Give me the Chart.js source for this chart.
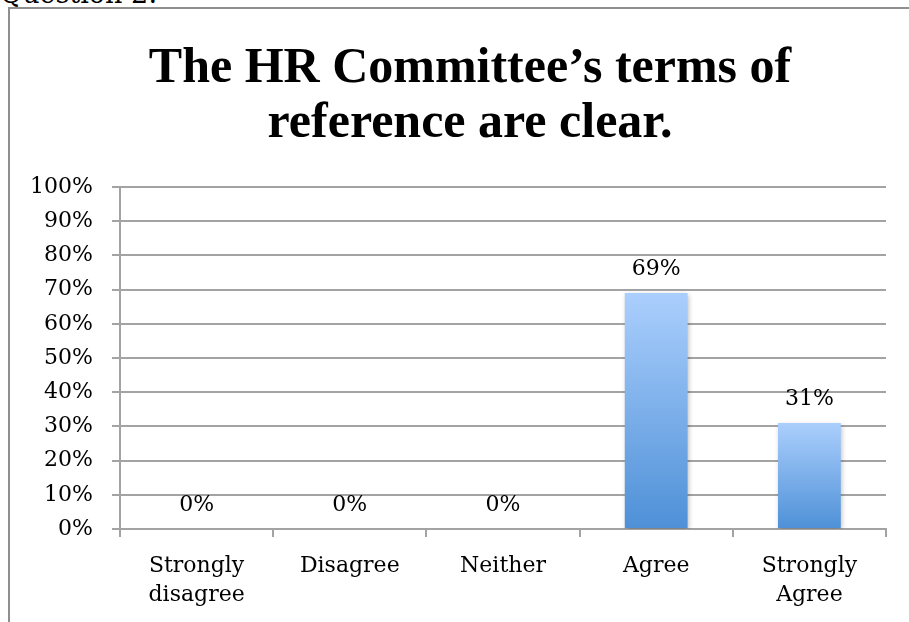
<!DOCTYPE html>
<html>
<head>
<meta charset="utf-8">
<script src="https://cdn.jsdelivr.net/npm/chart.js@4/dist/chart.umd.min.js"></script>
<style>
  html, body { margin: 0; padding: 0; background: #fff; }
  body { width: 909px; height: 622px; position: relative; overflow: hidden; }
  #heading { position: absolute; left: 0; top: -22px; font: 27px "DejaVu Serif", serif; line-height: 31px; color: #000; white-space: nowrap; }
  #frame { position: absolute; left: 8px; top: 7px; width: 960px; height: 640px;
           border-top: 2px solid #8f8f8f; border-left: 2px solid #8f8f8f; }
  #wrap { position: absolute; left: 0; top: 0; width: 909px; height: 622px; }
  #title { position: absolute; left: 20px; top: 38px; width: 900px; text-align: center;
           font: bold 50px "Liberation Serif", serif; line-height: 55px; color: #000; }
</style>
</head>
<body>
<div id="heading">Question 2:</div>
<div id="frame"></div>
<div id="wrap"><canvas id="chart" width="909" height="622"></canvas></div>
<div id="title"></div>
<script>
// Survey responses for question 2
const categories = [["Strongly", "disagree"], "Disagree", "Neither", "Agree", ["Strongly", "Agree"]];
const shares = [0, 0, 0, 69, 31];           // percent of respondents
const yTicks = [0, 10, 20, 30, 40, 50, 60, 70, 80, 90, 100];
const titleLines = ["The HR Committee\u2019s terms of", "reference are clear."];

document.getElementById('title').innerHTML = titleLines.join('<br>');

const labelFont = { family: "'DejaVu Serif', serif", size: 22 };

function barGradient(ctx) {
  const chart = ctx.chart;
  const area = chart.chartArea;
  if (!area || ctx.type !== 'data') return '#7fb0ea';
  const y = chart.scales.y;
  const top = y.getPixelForValue(ctx.raw);
  const bottom = y.getPixelForValue(0);
  if (bottom - top < 1) return '#7fb0ea';
  const g = chart.ctx.createLinearGradient(0, top, 0, bottom);
  g.addColorStop(0, '#abcffd');
  g.addColorStop(1, '#4e90d7');
  return g;
}

// soft drop shadow under the bars
const barShadow = {
  id: 'barShadow',
  beforeDatasetsDraw(chart) {
    const c = chart.ctx;
    c.save();
    c.shadowColor = 'rgba(0,0,0,0.28)';
    c.shadowBlur = 5;
    c.shadowOffsetX = 1;
    c.shadowOffsetY = 2;
  },
  afterDatasetsDraw(chart) {
    chart.ctx.restore();
  }
};

// percentage written above each bar
const valueLabels = {
  id: 'valueLabels',
  afterDatasetsDraw(chart) {
    const c = chart.ctx;
    const meta = chart.getDatasetMeta(0);
    c.save();
    c.font = `${labelFont.size}px ${labelFont.family}`;
    c.fillStyle = '#000';
    c.textAlign = 'center';
    c.textBaseline = 'alphabetic';
    meta.data.forEach((bar, i) => {
      c.fillText(shares[i] + '%', bar.x, bar.y - 18);
    });
    c.restore();
  }
};

new Chart(document.getElementById('chart'), {
  type: 'bar',
  data: {
    labels: categories,
    datasets: [{
      data: shares,
      backgroundColor: barGradient,
      borderWidth: 0,
      categoryPercentage: 1,
      barPercentage: 0.41
    }]
  },
  options: {
    responsive: false,
    animation: false,
    layout: { padding: { left: 0, right: 23, top: 187, bottom: 0 } },
    plugins: {
      legend: { display: false },
      tooltip: { enabled: false },
      title: { display: false }
    },
    scales: {
      y: {
        min: 0,
        max: 100,
        afterBuildTicks(scale) { scale.ticks = yTicks.map(v => ({ value: v })); },
        afterFit(scale) { scale.width = 120; },
        ticks: {
          color: '#000',
          font: labelFont,
          padding: 19,
          callback: v => v + '%'
        },
        grid: { color: '#a3a3a3', lineWidth: 2, tickLength: 8, drawTicks: true },
        border: { display: true, color: '#a3a3a3', width: 2 }
      },
      x: {
        afterFit(scale) { scale.height = 93; },
        ticks: {
          color: '#000',
          font: { family: labelFont.family, size: 22, lineHeight: 1.32 },
          padding: 15,
          maxRotation: 0,
          autoSkip: false
        },
        grid: { display: true, drawOnChartArea: false, drawTicks: true, tickLength: 8, offset: true, color: '#a3a3a3', lineWidth: 2 },
        border: { display: true, color: '#a3a3a3', width: 2 }
      }
    }
  },
  plugins: [barShadow, valueLabels]
});
</script>
</body>
</html>
